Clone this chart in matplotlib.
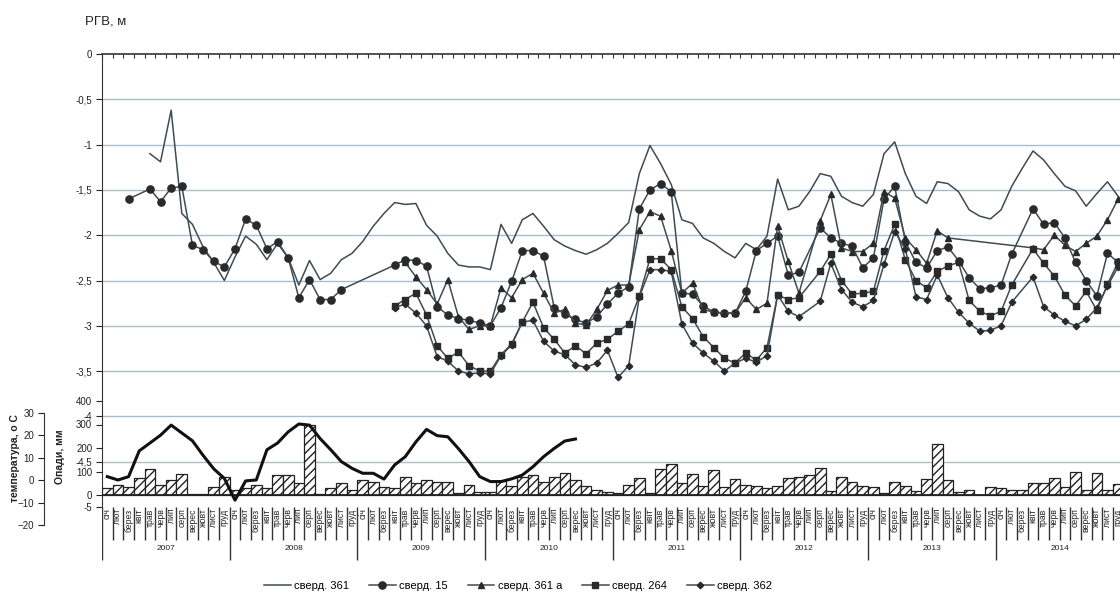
import numpy as np
import matplotlib
matplotlib.use("Agg")
import matplotlib.pyplot as plt
from matplotlib.lines import Line2D

plt.rcParams['font.family'] = ['Liberation Sans', 'DejaVu Sans']
plt.rcParams['hatch.linewidth'] = 1.0
plt.rcParams['hatch.color'] = '#222222'

# ---------------- data ----------------
years = ['2007', '2008', '2009', '2010', '2011', '2012', '2013', '2014']
months = ['січ', 'лют', 'берез', 'квіт', 'трав', 'черв',
          'лип', 'серп', 'верес', 'жовт', 'лист', 'груд']
N = None

# groundwater level, m (one row per year, Jan..Dec)
sverd_361 = [
    N, N, N, N, -1.10, -1.19, -0.62, -1.76, -1.88, -2.13, -2.30, -2.50,
    -2.24, -2.01, -2.10, -2.27, -2.09, -2.25, -2.55, -2.28, -2.49, -2.42, -2.27, -2.20,
    -2.07, -1.90, -1.76, -1.64, -1.66, -1.65, -1.89, -2.01, -2.20, -2.33, -2.35, -2.35,
    -2.38, -1.88, -2.09, -1.83, -1.76, -1.90, -2.05, -2.12, -2.17, -2.21, -2.16, -2.09,
    -1.98, -1.86, -1.32, -1.01, -1.21, -1.44, -1.83, -1.87, -2.03, -2.09, -2.18, -2.25,
    -2.09, -2.16, -2.01, -1.38, -1.72, -1.68, -1.52, -1.32, -1.35, -1.57, -1.64, -1.68,
    -1.55, -1.10, -0.97, -1.32, -1.57, -1.65, -1.41, -1.43, -1.52, -1.72, -1.79, -1.82,
    -1.72, -1.46, -1.26, -1.07, -1.17, -1.32, -1.46, -1.51, -1.68, -1.54, -1.41, -1.57,
]
sverd_15 = [
    N, N, -1.60, N, -1.49, -1.63, -1.48, -1.46, -2.11, -2.16, -2.29, -2.35,
    -2.15, -1.82, -1.89, -2.15, -2.07, -2.25, -2.69, -2.49, -2.71, -2.71, -2.60, N,
    N, N, N, -2.33, -2.27, -2.28, -2.34, -2.79, -2.88, -2.92, -2.94, -2.97,
    -3.00, -2.80, -2.51, -2.17, -2.17, -2.23, -2.80, -2.87, -2.93, -2.97, -2.90, -2.76,
    -2.64, -2.57, -1.71, -1.50, -1.43, -1.52, -2.64, -2.65, -2.78, -2.85, -2.86, -2.86,
    -2.62, -2.17, -2.09, -2.01, -2.44, -2.41, N, -1.92, -2.03, -2.09, -2.12, -2.36,
    -2.25, -1.60, -1.46, -2.07, -2.30, -2.36, -2.17, -2.13, -2.28, -2.47, -2.59, -2.58,
    -2.55, -2.21, N, -1.71, -1.88, -1.86, -2.03, -2.30, -2.50, -2.67, -2.20, -2.30,
]
sverd_361a = [
    N, N, N, N, N, N, N, N, N, N, N, N,
    N, N, N, N, N, N, N, N, N, N, N, N,
    N, N, N, N, -2.30, -2.46, -2.60, -2.76, -2.49, -2.90, -3.04, -3.00,
    -3.00, -2.58, -2.69, -2.49, -2.42, -2.64, -2.86, -2.82, -2.97, -2.99, -2.82, -2.61,
    -2.55, -2.55, -1.94, -1.74, -1.79, -2.17, -2.64, -2.53, -2.82, -2.85, -2.86, -2.86,
    -2.69, -2.82, -2.75, -1.90, -2.29, -2.64, N, -1.84, -1.55, -2.14, -2.18, -2.18,
    -2.09, -1.52, -1.59, -2.03, -2.16, -2.31, -1.95, -2.03, N, N, N, N,
    N, N, N, -2.14, -2.16, -2.00, -2.11, -2.18, -2.09, -2.01, -1.83, -1.60,
]
sverd_264 = [
    N, N, N, N, N, N, N, N, N, N, N, N,
    N, N, N, N, N, N, N, N, N, N, N, N,
    N, N, N, -2.78, -2.71, -2.64, -2.88, -3.22, -3.36, -3.29, -3.44, -3.50,
    -3.50, -3.32, -3.20, -2.96, -2.74, -3.02, -3.15, -3.30, -3.22, -3.31, -3.19, -3.15,
    -3.06, -2.98, -2.67, -2.26, -2.26, -2.38, -2.79, -2.92, -3.12, -3.24, -3.36, -3.41,
    -3.30, -3.38, -3.24, -2.66, -2.71, -2.69, N, -2.40, -2.21, -2.50, -2.65, -2.64,
    -2.62, -2.17, -1.88, -2.27, -2.50, -2.58, -2.40, -2.34, -2.30, -2.72, -2.84, -2.89,
    -2.84, -2.55, N, -2.15, -2.31, -2.45, -2.66, -2.78, -2.62, -2.83, -2.54, -2.30,
]
sverd_362 = [
    N, N, N, N, N, N, N, N, N, N, N, N,
    N, N, N, N, N, N, N, N, N, N, N, N,
    N, N, N, -2.80, -2.76, -2.86, -3.00, -3.34, -3.39, -3.50, -3.53, -3.52,
    -3.53, -3.33, -3.21, -2.96, -2.94, -3.17, -3.28, -3.32, -3.43, -3.46, -3.41, -3.27,
    -3.57, -3.44, -2.68, -2.38, -2.38, -2.40, -2.98, -3.19, -3.30, -3.39, -3.50, -3.41,
    -3.36, -3.40, -3.33, -2.66, -2.84, -2.90, N, -2.73, -2.31, -2.60, -2.74, -2.79,
    -2.72, -2.32, -1.96, -2.15, -2.68, -2.71, -2.44, -2.69, -2.85, -2.97, -3.06, -3.05,
    -3.00, -2.74, N, -2.46, -2.79, -2.88, -2.95, -3.00, -2.93, -2.80, -2.56, -2.35,
]

# precipitation, mm
precip = [
    30, 43, 32, 73, 110, 42, 64, 89, 5, 5, 32, 75,
    20, 28, 44, 30, 85, 85, 53, 300, 4, 31, 50, 21,
    64, 54, 35, 31, 78, 50, 64, 57, 54, 7, 43, 11,
    11, 60, 40, 78, 85, 54, 78, 92, 64, 40, 21, 14,
    7, 43, 74, 10, 111, 130, 50, 88, 40, 106, 35, 68,
    43, 40, 28, 40, 71, 78, 85, 113, 17, 78, 57, 40,
    35, 7, 54, 40, 18, 68, 215, 65, 11, 23, 2, 33,
    28, 23, 23, 51, 51, 71, 34, 99, 20, 94, 23, 45,
]

# air temperature, deg C (Jan 2007 .. Sep 2010)
temperature = [
    1.5, 0.0, 1.5, 13.0, 16.5, 20.0, 24.5, 21.0, 17.5, 11.0, 5.0, 0.7,
    -9.0, -0.4, 0.0, 13.5, 16.5, 21.5, 25.0, 24.5, 18.5, 13.5, 8.2, 5.2,
    3.0, 3.0, 0.4, 6.7, 10.4, 17.0, 22.6, 19.8, 19.3, 14.0, 8.2, 1.5,
    -0.7, -0.7, 0.5, 2.2, 5.9, 10.4, 14.1, 17.4, 18.3,
]

series = [
    ('сверд. 361', sverd_361, None, 0),
    ('сверд. 15', sverd_15, 'o', 5.2),
    ('сверд. 361 а', sverd_361a, '^', 5.0),
    ('сверд. 264', sverd_264, 's', 4.6),
    ('сверд. 362', sverd_362, 'D', 3.3),
]

# ---------------- layout ----------------
W, H = 1120, 606
fig = plt.figure(figsize=(W / 100, H / 100), dpi=100)


def rect(x0, y_top, x1, y_bot):
    return [x0 / W, 1 - y_bot / H, (x1 - x0) / W, (y_bot - y_top) / H]


NM = 96
MW = 10.64
XL = 102
XR = XL + NM * MW
Y0, Y5 = 54, 507
xc = np.arange(NM) + 0.5

line_col = '#3e4c54'
mark_col = '#2a2a2a'
grid_col = '#a9bdcb'

# main axes (groundwater level)
ax = fig.add_axes(rect(XL, Y0, XR, Y5))
ax.set_xlim(0, NM)
ax.set_ylim(-5, 0)
for v in np.arange(-0.5, -4.51, -0.5):
    ax.axhline(v, color=grid_col, lw=1.0, zorder=0)
for s in ['right', 'bottom']:
    ax.spines[s].set_visible(False)
ax.spines['left'].set_color('#333333')
ax.spines['top'].set_color('#333333')
ax.spines['top'].set_linewidth(1.2)
yt = np.arange(0, -5.01, -0.5)
ax.set_yticks(yt)
ax.set_yticklabels([('%g' % v).replace('.', ',') if v != 0 else '0' for v in yt])
ax.tick_params(axis='y', direction='out', length=4, width=0.8, labelsize=7,
               pad=3, colors='#222222')
ax.xaxis.tick_top()
ax.set_xticks(np.arange(NM + 1))
ax.set_xticklabels([])
ax.tick_params(axis='x', direction='in', length=3, width=0.8, colors='#333333')

handles = []
for name, vals, mk, ms in series:
    arr = np.array([np.nan if v is None else v for v in vals], dtype=float)
    m = ~np.isnan(arr)
    ax.plot(xc[m], arr[m], color=line_col, lw=1.1, marker=mk, ms=ms,
            mfc=mark_col, mec=mark_col, zorder=3)
    handles.append(Line2D([], [], color=line_col, lw=1.1, marker=mk, ms=ms,
                          mfc=mark_col, mec=mark_col))

# precipitation axes
axp = fig.add_axes(rect(XL, Y0, XR, Y5))
axp.patch.set_visible(False)
axp.set_xlim(0, NM)
ppx = (495 - 401) / 400.0
axp.set_ylim(-(Y5 - 495) / ppx, (495 - Y0) / ppx)
for s in axp.spines.values():
    s.set_visible(False)
axp.bar(xc, precip, width=1.0, facecolor='white', edgecolor='#222222',
        hatch='////', lw=0.9, zorder=2)
axp.axhline(0, color='#222222', lw=1.3, zorder=3)
axp.set_xticks([])
axp.set_yticks([0, 100, 200, 300, 400])
axp.tick_params(axis='y', direction='out', length=4, width=0.8, labelsize=7,
                pad=3, colors='#222222')

# temperature axes (line)
axt = fig.add_axes(rect(XL, Y0, XR, Y5))
axt.patch.set_visible(False)
axt.set_xlim(0, NM)
tpx = 2.24
axt.set_ylim(-(Y5 - 480) / tpx, (480 - Y0) / tpx)
axt.axis('off')
axt.plot(xc[:len(temperature)], temperature, color='#111111', lw=2.2, zorder=4)

# temperature scale
axs = fig.add_axes(rect(44, 413, 45, 525))
axs.patch.set_visible(False)
axs.set_ylim(-20, 30)
axs.set_xticks([])
for s in ['right', 'top', 'bottom']:
    axs.spines[s].set_visible(False)
axs.spines['left'].set_color('#333333')
axs.set_yticks([-20, -10, 0, 10, 20, 30])
axs.tick_params(axis='y', direction='out', length=4, width=0.8, labelsize=7,
                pad=3, colors='#222222')

# category (month / year) axis
axc = fig.add_axes(rect(XL, 495, XR, 562))
axc.set_xlim(0, NM)
axc.set_ylim(67, 0)
axc.axis('off')
mb = [i for i in range(1, NM) if i % 12 != 0]
axc.vlines(mb, 12, 45, color='#333333', lw=1.0)
axc.vlines(range(0, NM + 1, 12), 12, 65, color='#333333', lw=1.0)
for i in range(NM):
    axc.text(i + 0.5, 13.5, months[i % 12], rotation=90, ha='center', va='top',
             fontsize=6.2, color='#222222', clip_on=True)
for k, yname in enumerate(years):
    axc.text(12 * k + 6, 53, yname, ha='center', va='center', fontsize=6,
             color='#222222')

# labels
fig.text(85 / W, 1 - 21 / H, 'РГВ, м', ha='left', va='center', fontsize=9.5,
         color='#222222')
fig.text(15 / W, 1 - 458 / H, 'температура, о С', rotation=90, ha='center',
         va='center', fontsize=7.5, fontweight='bold', color='#222222')
fig.text(60 / W, 1 - 457 / H, 'Опади, мм', rotation=90, ha='center',
         va='center', fontsize=7.5, fontweight='bold', color='#222222')

fig.legend(handles, [s[0] for s in series], loc='center',
           bbox_to_anchor=(518 / W, 1 - 586 / H), ncol=5, frameon=False,
           fontsize=8, handlelength=2.4, handletextpad=0.3, columnspacing=1.8)

fig.savefig('out.png', dpi=100)
